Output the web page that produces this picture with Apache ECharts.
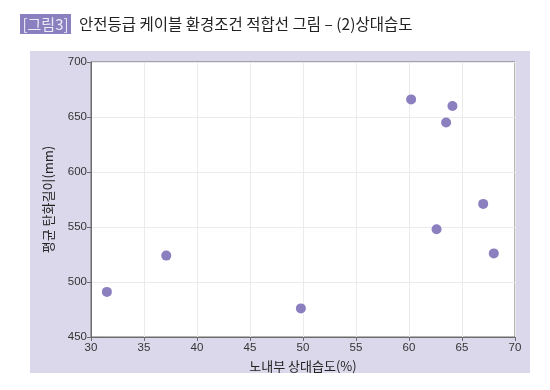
<!DOCTYPE html>
<html><head><meta charset="utf-8">
<script src="https://cdn.jsdelivr.net/npm/echarts@6/dist/echarts.min.js"></script>
<style>html,body{margin:0;padding:0;background:#fff}#c{width:550px;height:390px}</style>
</head><body><div id="c"></div>
<script>
const humidity = [31.5, 37.1, 49.8, 60.2, 64.1, 63.5, 67.0, 62.6, 68.0];
const charLength = [491, 524, 476, 666, 660, 645, 571, 548, 526];
const xTicks = {min: 30, max: 70, interval: 5};
const yTicks = {min: 450, max: 700, interval: 50};
const titleBadge = '[그림3]';
const titleText = '안전등급 케이블 환경조건 적합선 그림 – (2)상대습도';
const xName = '노내부 상대습도(%)';
const yName = '평균 탄화길이(mm)';

const font = '"Liberation Sans", Arial, "Noto Sans CJK KR", sans-serif';
const cjk = '"Noto Sans CJK KR", sans-serif';
const chart = echarts.init(document.getElementById('c'), null, {renderer: 'canvas'});
chart.setOption({
  animation: false,
  textStyle: {fontFamily: font},
  graphic: [
    {type: 'rect', z: -10, shape: {x: 30, y: 51, width: 500, height: 322}, style: {fill: '#dcd8eb'}},
    {type: 'rect', shape: {x: 20, y: 14, width: 51, height: 20}, style: {fill: '#8b80bf'}},
    {type: 'text', x: 45.5, y: 24, style: {text: titleBadge, fill: '#ece9f6', fontSize: 15, fontFamily: cjk, align: 'center', verticalAlign: 'middle'}},
    {type: 'text', x: 79, y: 24, style: {text: titleText, fill: '#222', fontSize: 15.5, fontFamily: cjk, align: 'left', verticalAlign: 'middle'}}
  ],
  grid: {left: 91, top: 62, right: 35, bottom: 53, show: true, backgroundColor: '#fff', borderColor: '#6b6b6b', borderWidth: 1},
  xAxis: {
    type: 'value', min: xTicks.min, max: xTicks.max, interval: xTicks.interval,
    name: xName, nameLocation: 'middle', nameGap: 23,
    nameTextStyle: {fontSize: 13, color: '#222', fontFamily: cjk},
    axisLine: {show: true, lineStyle: {color: '#6b6b6b'}},
    axisTick: {show: true, length: 4, lineStyle: {color: '#6b6b6b'}},
    axisLabel: {fontSize: 11.5, color: '#333', margin: 5},
    splitLine: {show: true, lineStyle: {color: '#ebebeb'}}
  },
  yAxis: {
    type: 'value', min: yTicks.min, max: yTicks.max, interval: yTicks.interval,
    name: yName, nameLocation: 'middle', nameGap: 36, nameRotate: 90,
    nameTextStyle: {fontSize: 13, color: '#222', fontFamily: cjk},
    axisLine: {show: true, lineStyle: {color: '#6b6b6b'}},
    axisTick: {show: true, length: 4, lineStyle: {color: '#6b6b6b'}},
    axisLabel: {fontSize: 11.5, color: '#333', margin: 4},
    splitLine: {show: true, lineStyle: {color: '#ebebeb'}}
  },
  series: [{
    type: 'scatter',
    data: humidity.map((h, i) => [h, charLength[i]]),
    symbolSize: 10,
    itemStyle: {color: '#8b7fbf', opacity: 1}
  }]
});
</script></body></html>
